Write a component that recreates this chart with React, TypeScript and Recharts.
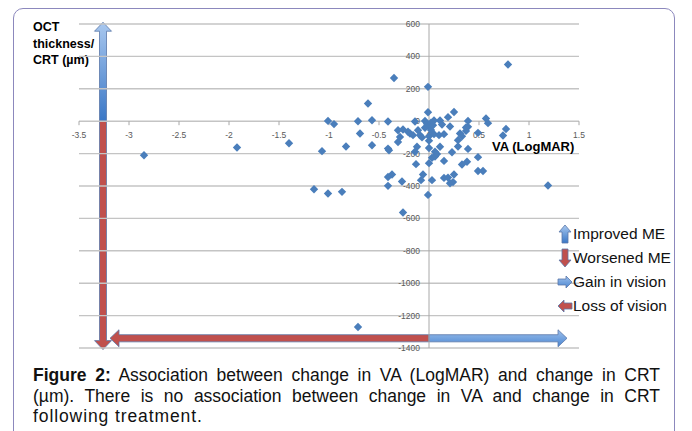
import {
  ScatterChart,
  Scatter,
  XAxis,
  YAxis,
  ReferenceLine,
  ReferenceDot,
  ReferenceArea,
} from 'recharts'

// change in VA (LogMAR) vs change in CRT (µm)
const VA_CHANGE = [
  -2.85, -1.92, -1.4, -1.07, -1.01, -0.95, -0.83, -1.15, -1.01, -0.87,
  -0.71, -0.71, -0.69, -0.61, -0.57, -0.57, -0.41, -0.41, -0.4, -0.35,
  -0.31, -0.26, -0.29, -0.31, -0.19, -0.16, -0.11, -0.09, -0.14, -0.12,
  -0.14, -0.41, -0.37, -0.41, -0.27, -0.26, -0.13, -0.08, -0.06, -0.01,
  -0.01, 0.79, -0.01, 0.25, 0.19, 0.57, 0.59, 0.39, 0.77, 0.74,
  0.49, 0.21, 0.11, 0.05, -0.04, 0, 0, 0, 0.05, 0.1,
  0.15, 0.11, 0.06, 0.39, 0.37, 0.31, 0.33, 0.29, 0.29, 0.39,
  0.49, 0.03, 0.06, 0, 0.15, 0.23, 0.33, 0.38, 0.49, 0.54,
  0.03, 0.15, 0.19, 0.25, 0.21, 0.24, 1.19, 0.08, -0.02, -0.04,
  0.02, 0.13, 0.37, -0.21, -0.07, 0, 0.02, 0.04,
]
const CRT_CHANGE = [
  -210, -162, -136, -185, 2, -18, -156, -420, -446, -436,
  -1270, 0, -76, 109, 6, -148, -2, -169, -180, 267,
  -56, -51, -97, -128, -76, -86, -56, -86, -2, -158,
  -189, -344, -329, -399, -372, -564, -265, -364, -329, -455,
  212, 350, 55, 57, 25, 17, -12, 2, -48, -88,
  -72, -33, 4, 4, 2, -35, -93, -165, -80, -86,
  -80, -158, -189, -35, -60, -76, -93, -117, -156, -171,
  -222, -226, -218, -259, -245, -192, -267, -250, -307, -307,
  -364, -350, -348, -329, -383, -376, -397, -203, -15, -40,
  -55, -20, -39, -65, -100, -120, -10, -25,
]

const X_TICKS = [-3.5, -3, -2.5, -2, -1.5, -1, -0.5, 0, 0.5, 1, 1.5]
const Y_TICKS = [600, 400, 200, 0, -200, -400, -600, -800, -1000, -1200, -1400]

const LEGEND_ITEMS = [
  { label: 'Improved ME', dir: 'up', color: 'blue' },
  { label: 'Worsened ME', dir: 'down', color: 'red' },
  { label: 'Gain in vision', dir: 'right', color: 'blue' },
  { label: 'Loss of vision', dir: 'left', color: 'red' },
]

const CAPTION_LINES = [
  'Association between change in VA (LogMAR) and change in CRT',
  '(µm). There is no association between change in VA and change in CRT',
  'following treatment.',
]

const points = VA_CHANGE.map((x, i) => ({ x, y: CRT_CHANGE[i] }))

const FONT = '"Liberation Sans", Arial, sans-serif'
const TICK_COLOR = '#595959'
const RED = '#c0504d'
const OUTLINE = '#5a77a8'

function arrowPoints(dir: string, x: number, y: number, w: number, h: number, head: number, half: number) {
  if (dir === 'up') {
    const c = x + w / 2
    return [[c, y], [c + half, y + head], [x + w, y + head], [x + w, y + h], [x, y + h], [x, y + head], [c - half, y + head]]
  }
  if (dir === 'down') {
    const c = x + w / 2
    const b = y + h
    return [[c, b], [c + half, b - head], [x + w, b - head], [x + w, y], [x, y], [x, b - head], [c - half, b - head]]
  }
  if (dir === 'left') {
    const c = y + h / 2
    return [[x, c], [x + head, c - half], [x + head, y], [x + w, y], [x + w, y + h], [x + head, y + h], [x + head, c + half]]
  }
  const c = y + h / 2
  const r = x + w
  return [[r, c], [r - head, c - half], [r - head, y], [x, y], [x, y + h], [r - head, y + h], [r - head, c + half]]
}

function Arrow({ dir, color, x, y, w, h, head = 9, half = 8.5, id }: any) {
  const pts = arrowPoints(dir, x, y, w, h, head, half).map((p) => p.join(',')).join(' ')
  const vertical = dir === 'up' || dir === 'down'
  return (
    <g>
      <defs>
        <linearGradient id={id} x1="0" y1="0" x2="0" y2="1">
          <stop offset="0%" stopColor={vertical ? '#a9c8ef' : '#9ec0ec'} />
          <stop offset="100%" stopColor={vertical ? '#3a77c6' : '#4a86d2'} />
        </linearGradient>
      </defs>
      <polygon
        points={pts}
        fill={color === 'blue' ? `url(#${id})` : RED}
        stroke={OUTLINE}
        strokeWidth={0.8}
      />
    </g>
  )
}

const arrowShape = (dir: string, color: string, id: string) => (props: any) => {
  const x = Math.min(props.x, props.x + props.width)
  const y = Math.min(props.y, props.y + props.height)
  return <Arrow dir={dir} color={color} id={id} x={x} y={y} w={Math.abs(props.width)} h={Math.abs(props.height)} />
}

const diamond = (props: any) => {
  const { cx, cy } = props
  return (
    <polygon
      points={`${cx},${cy - 4.2} ${cx + 4.2},${cy} ${cx},${cy + 4.2} ${cx - 4.2},${cy}`}
      fill="#4a7ebb"
    />
  )
}

function LegendBox() {
  return (
    <div style={{ position: 'absolute', left: 557, top: 222, fontFamily: FONT, fontSize: 15.5, color: '#111' }}>
      {LEGEND_ITEMS.map((it, i) => {
        const vertical = it.dir === 'up' || it.dir === 'down'
        return (
          <div key={it.label} style={{ display: 'flex', alignItems: 'center', height: 24 }}>
            <svg width={16} height={20}>
              {vertical ? (
                <Arrow dir={it.dir} color={it.color} id={`lg${i}`} x={5} y={1} w={6} h={18} head={7} half={6} />
              ) : (
                <Arrow dir={it.dir} color={it.color} id={`lg${i}`} x={1} y={7} w={14} h={6} head={6} half={6} />
              )}
            </svg>
            <span style={{ lineHeight: '18px' }}>{it.label}</span>
          </div>
        )
      })}
    </div>
  )
}

export default function App() {
  return (
    <div
      style={{
        position: 'absolute', left: 0, top: 0, width: 692, height: 431,
        background: '#fff', overflow: 'hidden', fontFamily: FONT,
      }}
    >
      <div
        style={{
          position: 'absolute', left: 13, top: 8, width: 662, height: 450,
          border: '1.5px solid #8c88bd', borderRadius: 10, boxSizing: 'border-box',
        }}
      />
      <div
        style={{
          position: 'absolute', left: 33, top: 19, fontSize: 12.5, fontWeight: 700,
          lineHeight: '16.5px', color: '#000',
        }}
      >
        OCT<br />thickness/<br />CRT (µm)
      </div>

      <div style={{ position: 'absolute', left: 0, top: 0 }}>
        <ScatterChart width={692} height={360} margin={{ top: 24, right: 113, bottom: 12, left: 79 }}>
          <XAxis type="number" dataKey="x" domain={[-3.5, 1.5]} ticks={X_TICKS} hide />
          <YAxis type="number" dataKey="y" domain={[-1400, 600]} ticks={Y_TICKS} hide />
          {Y_TICKS.map((t) => (
            <ReferenceLine key={`g${t}`} y={t} stroke="#c4c4c4" strokeWidth={1.4} ifOverflow="visible" />
          ))}
          <ReferenceLine x={0} stroke="#a8a8a8" strokeWidth={1} />
          {Y_TICKS.map((t) => (
            <ReferenceDot
              key={`yl${t}`}
              x={0}
              y={t}
              ifOverflow="visible"
              shape={(p: any) => (
                <text
                  x={p.cx - 9}
                  y={p.cy}
                  textAnchor="end"
                  dominantBaseline="central"
                  fontSize={8.5}
                  fill={TICK_COLOR}
                  fontFamily={FONT}
                >
                  {t}
                </text>
              )}
            />
          ))}
          {X_TICKS.map((t) => (
            <ReferenceDot
              key={`xl${t}`}
              x={t}
              y={0}
              ifOverflow="visible"
              shape={(p: any) => (
                <g>
                  <line x1={p.cx} x2={p.cx} y1={p.cy} y2={p.cy + 4} stroke="#a8a8a8" />
                  <text
                    x={p.cx}
                    y={p.cy + 14}
                    textAnchor="middle"
                    dominantBaseline="central"
                    fontSize={8.5}
                    fill={TICK_COLOR}
                    fontFamily={FONT}
                  >
                    {t}
                  </text>
                </g>
              )}
            />
          ))}
          <Scatter data={points} shape={diamond} isAnimationActive={false} />

          <ReferenceArea x1={-3.295} x2={-3.225} y1={0} y2={611} ifOverflow="visible" shape={arrowShape('up', 'blue', 'av')} />
          <ReferenceArea x1={-3.295} x2={-3.225} y1={-1410} y2={0} ifOverflow="visible" shape={arrowShape('down', 'red', 'rv')} />
          <ReferenceArea x1={-3.19} x2={0} y1={-1362} y2={-1318} ifOverflow="visible" shape={arrowShape('left', 'red', 'rh')} />
          <ReferenceArea x1={0} x2={1.38} y1={-1362} y2={-1318} ifOverflow="visible" shape={arrowShape('right', 'blue', 'bh')} />
        </ScatterChart>
      </div>

      <LegendBox />

      <div
        style={{
          position: 'absolute', left: 492, top: 140, fontSize: 13, fontWeight: 700,
          lineHeight: '13px', color: '#000',
        }}
      >
        VA (LogMAR)
      </div>

      <div
        style={{
          position: 'absolute', left: 33, top: 365, width: 627, fontSize: 17.5,
          lineHeight: '20.5px', color: '#111',
        }}
      >
        <div style={{ textAlign: 'justify', textAlignLast: 'justify' }}>
          <b>Figure 2:</b> {CAPTION_LINES[0]}
        </div>
        <div style={{ textAlign: 'justify', textAlignLast: 'justify' }}>{CAPTION_LINES[1]}</div>
        <div style={{ letterSpacing: 0.9 }}>{CAPTION_LINES[2]}</div>
      </div>
    </div>
  )
}
